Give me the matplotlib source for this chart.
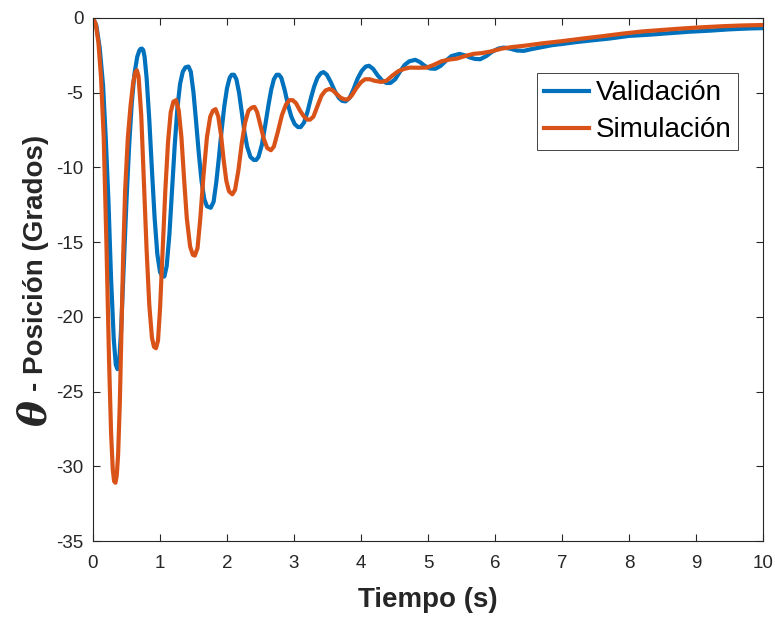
import matplotlib.pyplot as plt

# Validación (medido)
t_val = [0.00, 0.05, 0.10, 0.15, 0.19, 0.23, 0.27, 0.31, 0.34, 0.365, 0.39, 0.42, 0.46, 0.50,
         0.54, 0.58, 0.62, 0.66, 0.69, 0.71, 0.73, 0.75, 0.77, 0.80, 0.84, 0.88, 0.92, 0.96, 1.00,
         1.035, 1.065, 1.10, 1.14, 1.18, 1.22, 1.26, 1.30, 1.34, 1.38, 1.425, 1.46, 1.50, 1.54,
         1.58, 1.62, 1.66, 1.70, 1.757, 1.80, 1.84, 1.88, 1.92, 1.96, 2.00, 2.04, 2.07, 2.105,
         2.14, 2.18, 2.22, 2.26, 2.30, 2.35, 2.40, 2.435, 2.47, 2.52, 2.57, 2.62, 2.66, 2.70,
         2.74, 2.775, 2.81, 2.86, 2.91, 2.96, 3.01, 3.06, 3.10, 3.15, 3.20, 3.25, 3.30, 3.35,
         3.40, 3.44, 3.49, 3.55, 3.61, 3.67, 3.72, 3.77, 3.83, 3.89, 3.95, 4.01, 4.07, 4.12,
         4.18, 4.25, 4.32, 4.38, 4.44, 4.51, 4.58, 4.65, 4.72, 4.81, 4.88, 4.95, 5.03, 5.11,
         5.19, 5.27, 5.35, 5.47, 5.55, 5.63, 5.70, 5.78, 5.87, 5.96, 6.05, 6.13, 6.22, 6.33,
         6.43, 6.55, 6.70, 6.85, 7.00, 7.20, 7.40, 7.70, 8.00, 8.30, 8.60, 8.90, 9.20, 9.50,
         9.80, 10.0]
y_val = [0.0, -0.5, -2.0, -4.5, -8.0, -12.2, -17.5, -21.5, -23.2, -23.5, -23.1, -20.8, -16.5, -12.2,
         -8.5, -5.6, -3.7, -2.6, -2.2, -2.07, -2.05, -2.15, -2.6, -4.0, -6.8, -10.2, -13.4, -15.8,
         -17.0, -17.3, -17.3, -16.6, -14.5, -11.5, -8.5, -6.0, -4.4, -3.6, -3.3, -3.25, -3.6, -5.0,
         -7.0, -9.1, -10.9, -12.1, -12.6, -12.7, -12.3, -11.0, -9.3, -7.5, -5.9, -4.7, -4.0, -3.8,
         -3.8, -4.1, -5.0, -6.3, -7.6, -8.6, -9.3, -9.5, -9.5, -9.3, -8.5, -7.2, -5.8, -4.8, -4.1,
         -3.8, -3.8, -4.0, -4.8, -5.8, -6.6, -7.1, -7.3, -7.3, -7.0, -6.3, -5.4, -4.6, -4.0, -3.7,
         -3.62, -3.8, -4.3, -4.9, -5.35, -5.55, -5.58, -5.35, -4.75, -4.05, -3.55, -3.25, -3.2,
         -3.4, -3.85, -4.2, -4.35, -4.35, -4.1, -3.6, -3.15, -2.9, -2.8, -2.95, -3.2, -3.38, -3.4,
         -3.2, -2.85, -2.55, -2.4, -2.5, -2.65, -2.74, -2.76, -2.55, -2.25, -2.05, -1.98, -2.05,
         -2.18, -2.2, -2.08, -1.95, -1.82, -1.74, -1.62, -1.52, -1.38, -1.2, -1.12, -1.02, -0.92,
         -0.85, -0.76, -0.7, -0.68]

# Simulación
t_sim = [0.00, 0.04, 0.08, 0.12, 0.16, 0.20, 0.24, 0.27, 0.295, 0.315, 0.335, 0.355, 0.375, 0.40,
         0.42, 0.45, 0.48, 0.52, 0.56, 0.60, 0.635, 0.655, 0.68, 0.72, 0.76, 0.80, 0.84, 0.88,
         0.91, 0.94, 0.97, 1.00, 1.04, 1.08, 1.12, 1.16, 1.20, 1.24, 1.28, 1.32, 1.36, 1.40,
         1.45, 1.49, 1.52, 1.56, 1.60, 1.65, 1.70, 1.75, 1.79, 1.83, 1.87, 1.91, 1.95, 1.99,
         2.03, 2.08, 2.12, 2.17, 2.22, 2.27, 2.32, 2.37, 2.41, 2.45, 2.50, 2.55, 2.60, 2.655,
         2.70, 2.76, 2.82, 2.88, 2.93, 2.98, 3.03, 3.09, 3.15, 3.20, 3.24, 3.29, 3.35, 3.41,
         3.47, 3.53, 3.58, 3.64, 3.70, 3.76, 3.80, 3.86, 3.93, 4.00, 4.06, 4.13, 4.20, 4.30,
         4.38, 4.47, 4.56, 4.65, 4.73, 4.85, 4.98, 5.08, 5.20, 5.32, 5.43, 5.55, 5.68, 5.80,
         5.93, 6.10, 6.25, 6.45, 6.70, 7.00, 7.30, 7.60, 7.90, 8.20, 8.50, 8.80, 9.10, 9.40,
         9.70, 10.0]
y_sim = [0.0, -0.4, -1.6, -4.0, -8.0, -15.0, -23.0, -27.8, -30.2, -31.0, -31.1, -30.6, -29.2, -25.8,
         -22.0, -16.0, -11.5, -8.0, -5.9, -4.3, -3.6, -3.5, -3.9, -6.5, -11.0, -15.5, -19.2, -21.4,
         -22.0, -22.1, -21.6, -19.5, -15.5, -11.5, -8.3, -6.3, -5.6, -5.5, -6.2, -8.0, -10.8, -13.4,
         -15.3, -15.85, -15.9, -15.4, -13.5, -10.5, -8.0, -6.6, -6.2, -6.1, -6.6, -7.8, -9.5, -10.9,
         -11.6, -11.8, -11.5, -10.2, -8.4, -7.0, -6.2, -6.0, -5.95, -6.3, -7.2, -8.1, -8.7, -8.85,
         -8.6, -7.6, -6.5, -5.8, -5.5, -5.5, -5.7, -6.2, -6.6, -6.8, -6.8, -6.6, -5.9, -5.2,
         -4.85, -4.75, -4.85, -5.1, -5.35, -5.45, -5.45, -5.2, -4.7, -4.3, -4.1, -4.1, -4.2, -4.28,
         -4.2, -3.85, -3.55, -3.4, -3.32, -3.33, -3.32, -3.15, -2.9, -2.78, -2.72, -2.55, -2.4, -2.35,
         -2.25, -2.05, -1.95, -1.85, -1.7, -1.55, -1.38, -1.22, -1.05, -0.9, -0.8, -0.7, -0.62, -0.55,
         -0.5, -0.47]

x_ticks = list(range(0, 11))
y_ticks = [-35, -30, -25, -20, -15, -10, -5, 0]

plt.rcParams['font.family'] = ['Liberation Sans', 'DejaVu Sans']
plt.rcParams['axes.unicode_minus'] = False
dark = '#262626'

fig = plt.figure(figsize=(7.75, 6.2), dpi=100)
ax = fig.add_axes([0.12, 0.1274, 0.8645, 0.8436])

ax.plot(t_val, y_val, color='#0072BD', lw=3, label='Validación')
ax.plot(t_sim, y_sim, color='#D95319', lw=3, label='Simulación')

ax.set_xlim(0, 10)
ax.set_ylim(-35, 0)
ax.set_xticks(x_ticks)
ax.set_yticks(y_ticks)
ax.tick_params(direction='in', length=5, width=0.8, colors=dark, labelsize=13.5,
               top=True, right=True, pad=7)
ax.tick_params(axis='x', pad=10)
for s in ax.spines.values():
    s.set_color(dark)
    s.set_linewidth(0.8)

ax.set_xlabel('Tiempo (s)', fontsize=20, fontweight='bold', color=dark, labelpad=11)

# etiqueta del eje y: theta grande + texto
fig.text(0.045, 0.333, 'θ', rotation=90, fontsize=28, fontweight='bold', style='italic',
         family=['DejaVu Serif'], color=dark, ha='center', va='center')
fig.text(0.047, 0.37, '- Posición (Grados)', rotation=90, fontsize=20, fontweight='bold',
         color=dark, ha='center', va='bottom')

leg = ax.legend(loc='upper right', bbox_to_anchor=(0.963, 0.894), borderaxespad=0,
                fontsize=20, fancybox=False, framealpha=1, edgecolor=dark,
                handlelength=1.6, handletextpad=0.25, borderpad=0.25, labelspacing=0.4)
leg.get_frame().set_linewidth(0.6)

fig.savefig('out.png', dpi=100)
